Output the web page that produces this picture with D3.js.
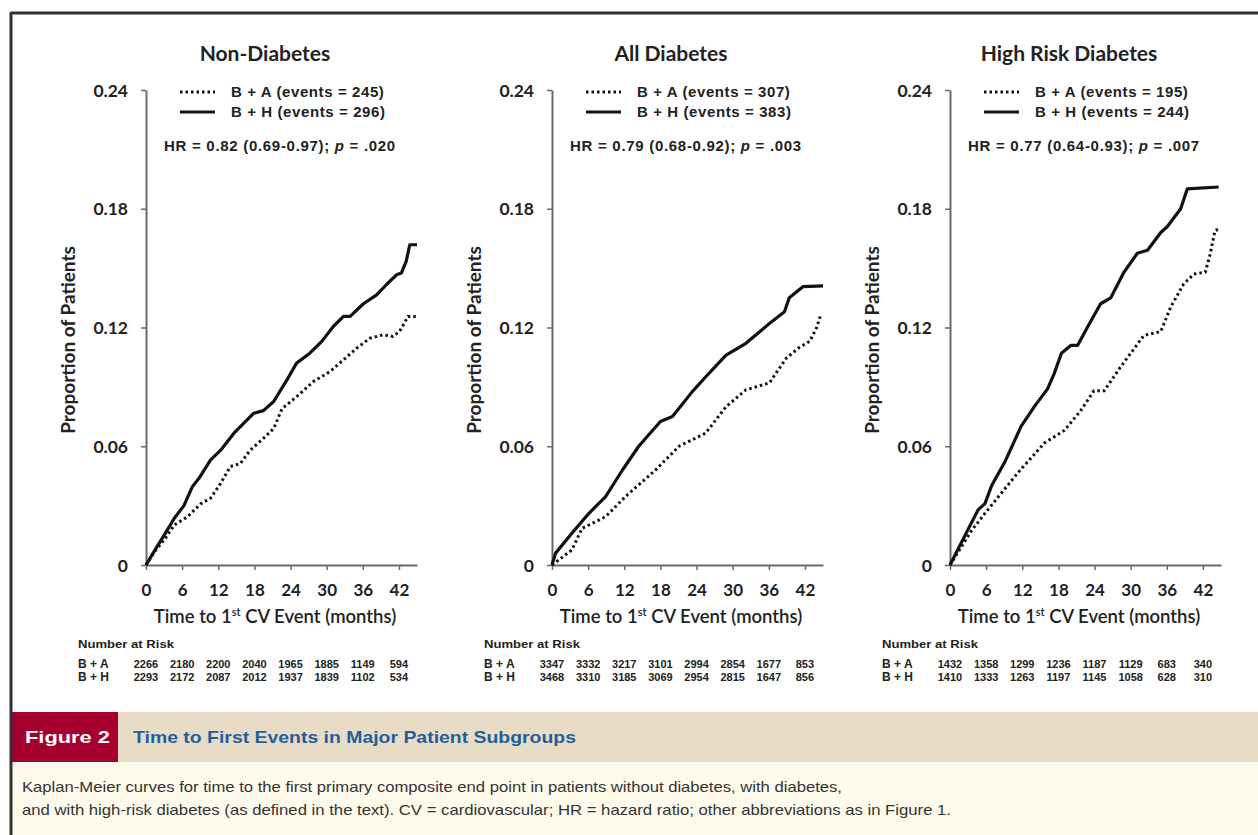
<!DOCTYPE html>
<html>
<head>
<meta charset="utf-8">
<script src="https://cdn.jsdelivr.net/npm/d3@7"></script>
<style>
  body { margin: 0; background: #fff; }
  svg { display: block; }
</style>
</head>
<body>
<div id="viz-container"></div>
<script>
// ---- data ----
const months = [0, 6, 12, 18, 24, 30, 36, 42];
const yTicks = [0, 0.06, 0.12, 0.18, 0.24];

const panelTitles = ['Non-Diabetes', 'All Diabetes', 'High Risk Diabetes'];
const eventsBA = [245, 307, 195];
const eventsBH = [296, 383, 244];
const hrValues = ['0.82 (0.69-0.97)', '0.79 (0.68-0.92)', '0.77 (0.64-0.93)'];
const pValues = ['.020', '.003', '.007'];

const riskBA = [
  [2266, 2180, 2200, 2040, 1965, 1885, 1149, 594],
  [3347, 3332, 3217, 3101, 2994, 2854, 1677, 853],
  [1432, 1358, 1299, 1236, 1187, 1129, 683, 340]
];
const riskBH = [
  [2293, 2172, 2087, 2012, 1937, 1839, 1102, 534],
  [3468, 3310, 3185, 3069, 2954, 2815, 1647, 856],
  [1410, 1333, 1263, 1197, 1145, 1058, 628, 310]
];

// [month, proportion]
const nonDiabBA = [[0,0],[1.4,0.0067],[3,0.0126],[4.7,0.0202],[6.9,0.0244],[9.1,0.031],[10.7,0.0337],
  [12.4,0.0413],[14,0.0497],[15.7,0.0514],[17.3,0.058],[19.5,0.064],[21.2,0.069],[22.6,0.079],[25,0.085],
  [27.8,0.0927],[30.6,0.0978],[32.8,0.1037],[35,0.1096],[37.2,0.1146],[39.4,0.1163],[41,0.1155],
  [42.1,0.118],[42.9,0.1222],[43.5,0.1256],[44.9,0.1256]];
const nonDiabBH = [[0,0],[1.65,0.0084],[3,0.015],[4.7,0.0236],[6.3,0.03],[7.7,0.0396],[8.8,0.0438],
  [10.7,0.053],[12.4,0.058],[14.6,0.0666],[17.9,0.0767],[19.5,0.078],[21.2,0.0826],[23.4,0.0935],
  [25,0.102],[27.2,0.107],[29.2,0.113],[31.1,0.1205],[32.8,0.1256],[33.9,0.1256],[36.1,0.132],
  [38.3,0.1365],[39.9,0.1416],[41.6,0.1466],[42.4,0.1475],[43.2,0.1534],[43.8,0.1618],[45,0.1618]];

const allDiabBA = [[0,0],[3.3,0.0076],[5,0.0185],[8.9,0.0244],[12.2,0.0346],[17.2,0.048],[21.1,0.06],
  [25.5,0.0666],[28.9,0.08],[32.2,0.0885],[36.1,0.092],[38.9,0.1045],[41.1,0.11],[42.8,0.113],
  [43.9,0.1197],[44.7,0.127]];
const allDiabBH = [[0,0],[0.6,0.006],[3.3,0.016],[6.1,0.026],[8.9,0.0346],[11.7,0.048],[14.4,0.06],
  [18,0.0725],[20,0.075],[23.3,0.0876],[25.5,0.095],[28.9,0.106],[32.2,0.112],[36.1,0.122],
  [38.6,0.128],[39.4,0.135],[41.7,0.1407],[45,0.141]];

const highRiskBA = [[0,0],[3.6,0.0175],[6.3,0.028],[11.3,0.0467],[15.7,0.0617],[19,0.068],[21.7,0.078],
  [23.9,0.088],[25.6,0.088],[28.3,0.1],[32.2,0.116],[35,0.118],[36.6,0.13],[38.8,0.142],[40.5,0.147],
  [42.4,0.148],[43.2,0.157],[44,0.169],[44.9,0.17]];
const highRiskBH = [[0,0],[3,0.018],[4.7,0.028],[5.8,0.031],[6.9,0.04],[9.1,0.052],[11.8,0.07],
  [14,0.08],[16.2,0.089],[17.3,0.0967],[18.5,0.107],[20.1,0.111],[21.2,0.111],[22.8,0.12],[25,0.132],
  [26.7,0.135],[28.9,0.148],[31.1,0.1575],[32.8,0.159],[35,0.168],[36.1,0.171],[38.3,0.18],
  [39.4,0.19],[44.6,0.191]];

const seriesBA = [nonDiabBA, allDiabBA, highRiskBA];
const seriesBH = [nonDiabBH, allDiabBH, highRiskBH];

// ---- layout ----
const W = 1258, H = 835;
const panelX = [146, 552, 950];
const panelW = 271;
const yTop = 90, yBottom = 565;

let viz = d3.select('#viz-container')
  .append('svg')
    .attr('width', W)
    .attr('height', H)
    .style('font-family', 'Lato, "Open Sans", sans-serif');

viz.append('rect').attr('width', W).attr('height', H).attr('fill', '#fff');

// frame line on top
viz.append('line').attr('x1', 11).attr('y1', 13).attr('x2', W).attr('y2', 13)
  .attr('stroke', '#333').attr('stroke-width', 3);

const arial = '"Liberation Sans", Arial, sans-serif';

panelTitles.forEach(function(title, i) {
  const x0 = panelX[i];
  const x = d3.scaleLinear().domain([0, 45]).range([x0, x0 + panelW]);
  const y = d3.scaleLinear().domain([0, 0.24]).range([yBottom, yTop]);
  const g = viz.append('g');

  // title
  g.append('text')
    .attr('x', x0 + 119).attr('y', 61)
    .attr('text-anchor', 'middle')
    .attr('font-size', 21).attr('font-weight', 700).attr('fill', '#222')
    .text(title);

  // y axis
  const yAxis = g.append('g')
    .attr('transform', 'translate(' + x0 + ',0)')
    .call(d3.axisLeft(y).tickValues(yTicks).tickSize(5).tickSizeOuter(0).tickPadding(13)
      .tickFormat(d => d === 0 ? '0' : d3.format('.2f')(d)));
  // x axis
  const xAxis = g.append('g')
    .attr('transform', 'translate(0,' + yBottom + ')')
    .call(d3.axisBottom(x).tickValues(months).tickSize(5).tickSizeOuter(0).tickPadding(14));

  [yAxis, xAxis].forEach(function(a) {
    a.select('.domain').attr('stroke', '#6a6a6a').attr('stroke-width', 2);
    a.selectAll('.tick line').attr('stroke', '#6a6a6a').attr('stroke-width', 1.5);
    a.selectAll('.tick text')
      .attr('font-family', 'Lato, sans-serif')
      .attr('font-weight', 700).attr('fill', '#222');
  });
  yAxis.selectAll('.tick text').attr('font-size', 17.5).attr('dy', '0.35em');
  xAxis.selectAll('.tick text').attr('font-size', 17);

  // y label
  g.append('text')
    .attr('transform', 'translate(' + (x0 - 71) + ',' + 340 + ') rotate(-90)')
    .attr('text-anchor', 'middle')
    .attr('font-size', 19).attr('font-weight', 700).attr('fill', '#222')
    .text('Proportion of Patients');

  // x label
  const xl = g.append('text')
    .attr('x', x0 + 129).attr('y', 623)
    .attr('text-anchor', 'middle')
    .attr('font-size', 18.5).attr('font-weight', 600).attr('fill', '#222');
  xl.append('tspan').text('Time to 1');
  xl.append('tspan').attr('font-size', 11).attr('dy', -7).text('st');
  xl.append('tspan').attr('dy', 7).text(' CV Event (months)');

  // curves
  const line = d3.line().x(d => x(d[0])).y(d => y(d[1]));
  g.append('path')
    .attr('d', line(seriesBA[i]))
    .attr('fill', 'none').attr('stroke', '#111').attr('stroke-width', 3)
    .attr('stroke-dasharray', '2.5,3');
  g.append('path')
    .attr('d', line(seriesBH[i]))
    .attr('fill', 'none').attr('stroke', '#111').attr('stroke-width', 3.2)
    .attr('stroke-linejoin', 'round');

  // legend
  g.append('line')
    .attr('x1', x0 + 34).attr('x2', x0 + 69).attr('y1', 92).attr('y2', 92)
    .attr('stroke', '#111').attr('stroke-width', 3).attr('stroke-dasharray', '2.5,3');
  g.append('line')
    .attr('x1', x0 + 34).attr('x2', x0 + 69).attr('y1', 112).attr('y2', 112)
    .attr('stroke', '#111').attr('stroke-width', 3);
  g.append('text')
    .attr('x', x0 + 85).attr('y', 97)
    .attr('font-family', arial).attr('font-size', 15).attr('font-weight', 700)
    .attr('letter-spacing', 0.6).attr('fill', '#222')
    .text('B + A (events = ' + eventsBA[i] + ')');
  g.append('text')
    .attr('x', x0 + 85).attr('y', 117)
    .attr('font-family', arial).attr('font-size', 15).attr('font-weight', 700)
    .attr('letter-spacing', 0.6).attr('fill', '#222')
    .text('B + H (events = ' + eventsBH[i] + ')');

  const hr = g.append('text')
    .attr('x', x0 + 134).attr('y', 151)
    .attr('text-anchor', 'middle')
    .attr('font-family', arial).attr('font-size', 15).attr('font-weight', 700)
    .attr('letter-spacing', 0.7).attr('fill', '#222');
  hr.append('tspan').text('HR = ' + hrValues[i] + '; ');
  hr.append('tspan').attr('font-style', 'italic').text('p');
  hr.append('tspan').text(' = ' + pValues[i]);

  // number at risk table
  g.append('text')
    .attr('x', x0 - 68).attr('y', 648)
    .attr('font-family', arial).attr('font-size', 11).attr('font-weight', 700).attr('fill', '#222')
    .attr('textLength', 96).attr('lengthAdjust', 'spacingAndGlyphs')
    .text('Number at Risk');
  [['B + A', riskBA[i], 668], ['B + H', riskBH[i], 681]].forEach(function(row) {
    g.append('text')
      .attr('x', x0 - 68).attr('y', row[2])
      .attr('font-family', arial).attr('font-size', 12).attr('font-weight', 700).attr('fill', '#222')
      .text(row[0]);
    g.selectAll(null).data(row[1]).enter()
      .append('text')
        .attr('x', (d, j) => x(months[j]))
        .attr('y', row[2])
        .attr('text-anchor', 'middle')
        .attr('font-family', arial).attr('font-size', 11).attr('font-weight', 700).attr('fill', '#222')
        .text(d => d);
  });
});

// ---- caption block ----
viz.append('rect').attr('x', 12).attr('y', 712).attr('width', W - 12).attr('height', 50).attr('fill', '#e8dcc6');
viz.append('rect').attr('x', 12).attr('y', 762).attr('width', W - 12).attr('height', H - 762).attr('fill', '#fffbec');
viz.append('rect').attr('x', 12).attr('y', 712).attr('width', 106).attr('height', 50).attr('fill', '#a5002e');
viz.append('text')
  .attr('x', 25).attr('y', 743)
  .attr('font-family', arial).attr('font-size', 17).attr('font-weight', 700).attr('fill', '#fff')
  .attr('textLength', 85).attr('lengthAdjust', 'spacingAndGlyphs')
  .text('Figure 2');
viz.append('text')
  .attr('x', 133).attr('y', 743)
  .attr('font-family', arial).attr('font-size', 17).attr('font-weight', 700).attr('fill', '#1f5f9c')
  .attr('textLength', 443).attr('lengthAdjust', 'spacingAndGlyphs')
  .text('Time to First Events in Major Patient Subgroups');

const captionLines = [
  'Kaplan-Meier curves for time to the first primary composite end point in patients without diabetes, with diabetes,',
  'and with high-risk diabetes (as defined in the text). CV = cardiovascular; HR = hazard ratio; other abbreviations as in Figure 1.'
];
const captionWidths = [820, 929];
viz.selectAll('.cap').data(captionLines).enter()
  .append('text')
    .attr('class', 'cap')
    .attr('x', 22)
    .attr('y', (d, i) => 792 + i * 23)
    .attr('font-family', arial).attr('font-size', 14.5).attr('fill', '#333')
    .attr('textLength', (d, i) => captionWidths[i]).attr('lengthAdjust', 'spacingAndGlyphs')
    .text(d => d);

// left frame line, over the caption block too
viz.append('line').attr('x1', 11).attr('y1', 12).attr('x2', 11).attr('y2', H)
  .attr('stroke', '#333').attr('stroke-width', 3);
</script>
</body>
</html>
